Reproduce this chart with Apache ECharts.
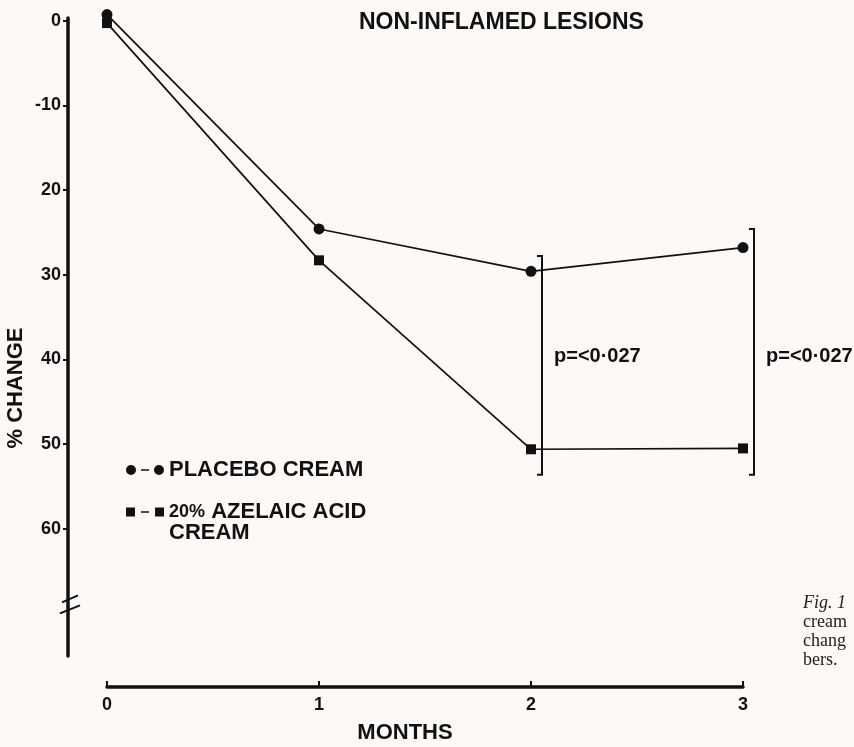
<!DOCTYPE html>
<html>
<head>
<meta charset="utf-8" />
<title>Non-inflamed lesions</title>
<style>
html, body { margin: 0; padding: 0; background: #fcf9f7; }
#chart { width: 854px; height: 747px; }
</style>
</head>
<body>
<div id="chart"></div>
<script src="https://cdn.jsdelivr.net/npm/echarts@6.0.0/dist/echarts.min.js"></script>
<script>
// months after start of treatment
const months = [0, 1, 2, 3];
// % change in lesion count (axis runs downward)
const placebo = [-0.7, 24.6, 29.6, 26.8];
const azelaic = [0.3, 28.3, 50.6, 50.5];
// y ticks and the labels printed beside them ("-10" as printed)
const yTicks = [0, 10, 20, 30, 40, 50, 60];
const yTickLabels = ['0', '-10', '20', '30', '40', '50', '60'];
const xTickLabels = ['0', '1', '2', '3'];
// significance brackets
const bracketMonths = [2, 3];
const bracketTop = [27.8, 24.6];
const bracketBottom = [53.6, 53.6];
const bracketLabels = ['p=<0·027', 'p=<0·027'];

const FONT = '"Liberation Sans", Arial, sans-serif';
const INK = '#111';

const chart = echarts.init(document.getElementById('chart'));

// legend icons: dot-dash-dot / square-dash-square (tiny corner dots fix the box size)
const box = 'M0,0h0.01v0.01h-0.01z M37.99,39.99h0.01v0.01h-0.01z ';
const iconPlacebo = 'path://' + box +
  'M0,20a5,5 0 1,0 10,0a5,5 0 1,0 -10,0z M28,20a5,5 0 1,0 10,0a5,5 0 1,0 -10,0z M15,19.2h8v1.6h-8z';
const iconAzelaic = 'path://' + box +
  'M0,5h9v9h-9z M29,5h9v9h-9z M15,8.7h8v1.6h-8z';

const option = {
  backgroundColor: '#fcf9f7',
  animation: false,
  title: {
    text: 'NON-INFLAMED LESIONS',
    left: 354,
    top: 6,
    textStyle: { fontFamily: FONT, fontWeight: 'bold', fontSize: 23, color: INK }
  },
  legend: {
    orient: 'vertical',
    left: 121,
    top: 445,
    itemWidth: 38,
    itemHeight: 40,
    itemGap: 11,
    symbolKeepAspect: false,
    itemStyle: { borderWidth: 0 },
    data: [
      { name: 'PLACEBO CREAM', icon: iconPlacebo },
      { name: '20% AZELAIC ACID CREAM', icon: iconAzelaic }
    ],
    formatter: function (name) {
      if (name === '20% AZELAIC ACID CREAM') return '{s|20%} AZELAIC ACID\nCREAM';
      return name;
    },
    textStyle: {
      fontFamily: FONT, fontWeight: 'bold', fontSize: 22, color: INK, lineHeight: 21,
      rich: { s: { fontFamily: FONT, fontWeight: 'bold', fontSize: 18, color: INK } }
    }
  },
  grid: { left: 107, right: 111, top: 18, bottom: 91 },
  xAxis: {
    type: 'value',
    min: 0,
    max: 3,
    interval: 1,
    offset: 31,
    axisLine: { onZero: false, lineStyle: { color: INK, width: 3.5 } },
    axisTick: { inside: true, length: 6, lineStyle: { color: INK, width: 2 } },
    splitLine: { show: false },
    axisLabel: {
      margin: 9,
      fontFamily: FONT, fontWeight: 'bold', fontSize: 18, color: INK,
      formatter: function (v) { return xTickLabels[v]; }
    }
  },
  yAxis: {
    type: 'value',
    inverse: true,
    min: -0.3,
    max: 75,
    offset: 39,
    axisLine: { show: true, onZero: false, lineStyle: { color: INK, width: 3.5 } },
    axisTick: { show: true, length: 5, customValues: yTicks, lineStyle: { color: INK, width: 2 } },
    splitLine: { show: false },
    axisLabel: {
      margin: 7,
      customValues: yTicks,
      fontFamily: FONT, fontWeight: 'bold', fontSize: 18, color: INK,
      formatter: function (v) { return yTickLabels[yTicks.indexOf(v)]; }
    }
  },
  series: [
    {
      name: 'PLACEBO CREAM',
      type: 'line',
      clip: false,
      symbol: 'circle',
      symbolSize: 11,
      color: INK,
      lineStyle: { color: INK, width: 1.7 },
      data: months.map((m, i) => [m, placebo[i]])
    },
    {
      name: '20% AZELAIC ACID CREAM',
      type: 'line',
      clip: false,
      symbol: 'rect',
      symbolSize: 10,
      color: INK,
      lineStyle: { color: INK, width: 1.7 },
      data: months.map((m, i) => [m, azelaic[i]])
    },
    {
      type: 'custom',
      clip: false,
      silent: true,
      data: bracketMonths.map((m, i) => [m, bracketTop[i], bracketBottom[i]]),
      renderItem: function (params, api) {
        const top = api.coord([api.value(0), api.value(1)]);
        const bot = api.coord([api.value(0), api.value(2)]);
        const mid = api.coord([api.value(0), 39.7]);
        const x = top[0] + 11;
        return {
          type: 'group',
          children: [
            {
              type: 'polyline',
              shape: { points: [[x - 5, top[1]], [x, top[1]], [x, bot[1]], [x - 5, bot[1]]] },
              style: { stroke: INK, lineWidth: 2, fill: null }
            },
            {
              type: 'text',
              style: {
                text: bracketLabels[params.dataIndex],
                x: x + 12,
                y: mid[1],
                verticalAlign: 'middle',
                font: 'bold 20px ' + FONT,
                fill: INK
              }
            }
          ]
        };
      }
    }
  ]
};

chart.setOption(option);

// axis break on the y axis, names, and the caption fragment at the right edge
const breakY = chart.convertToPixel({ yAxisIndex: 0 }, 68.9);
const axisX = 68;
chart.setOption({
  graphic: [
    {
      type: 'rect',
      shape: { x: axisX - 4, y: breakY - 5, width: 8, height: 10 },
      style: { fill: '#fcf9f7' }
    },
    {
      type: 'line',
      shape: { x1: axisX - 6, y1: breakY - 2, x2: axisX + 10, y2: breakY - 9 },
      style: { stroke: INK, lineWidth: 2 }
    },
    {
      type: 'line',
      shape: { x1: axisX - 8, y1: breakY + 9, x2: axisX + 12, y2: breakY + 1 },
      style: { stroke: INK, lineWidth: 2 }
    },
    {
      type: 'text',
      x: 16,
      y: 388,
      rotation: Math.PI / 2,
      style: {
        text: '% CHANGE',
        align: 'center',
        verticalAlign: 'middle',
        font: 'bold 22px ' + FONT,
        fill: INK
      }
    },
    {
      type: 'text',
      x: 405,
      y: 733,
      style: {
        text: 'MONTHS',
        align: 'center',
        verticalAlign: 'middle',
        font: 'bold 22px ' + FONT,
        fill: INK
      }
    },
    {
      type: 'text',
      x: 803,
      y: 594,
      style: {
        text: '{i|Fig. 1}\ncream\nchang\nbers.',
        font: '18px "Liberation Serif", serif',
        fill: '#222',
        lineHeight: 19,
        rich: { i: { fontStyle: 'italic', fontFamily: '"Liberation Serif", serif', fontSize: 18, fill: '#222', lineHeight: 19 } }
      }
    }
  ]
});
</script>
</body>
</html>
